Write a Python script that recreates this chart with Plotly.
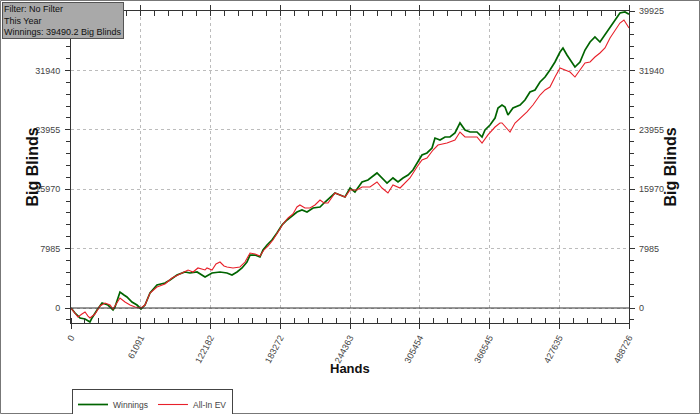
import plotly.graph_objects as go

# ---- data ----
win_hands = [0, 3500, 7900, 12300, 16600, 18400, 22800, 27200, 32400, 36800, 38500, 41200, 42900,
             46400, 49000, 53400, 57800, 61300, 64800, 69200, 75300, 82300, 86700, 92800, 99800,
             104200, 110400, 117400, 123500, 130500, 136600, 141000, 145400, 149800, 154100, 156800,
             161200, 165500, 168200, 171700, 176000, 180400, 184800, 189200, 193600, 197900, 202300,
             206700, 212000, 218100, 222500, 226800, 231200, 235600, 240000, 244400, 248700, 254900,
             260100, 268000, 272400, 276800, 282000, 286400, 290800, 295200, 299500, 303900, 307400,
             311800, 316200, 318800, 323200, 327600, 331900, 336300, 340700, 345100, 349500, 355600,
             360000, 362600, 367000, 371400, 374000, 377500, 380100, 382700, 387100, 393300, 397600,
             402000, 406400, 410800, 415200, 419500, 423900, 428300, 430900, 434400, 438800, 441400,
             445800, 450200, 454600, 458900, 463300, 467700, 472100, 476500, 480800, 485200, 488726]
win_bb = [0, -670, -1340, -1480, -1880, -1340, -270, 670, 400, -270, 130, 1340, 2150,
          1750, 1480, 810, 400, -130, 400, 2020, 3090, 3360, 3760, 4440, 4840,
          4710, 4840, 4170, 4710, 4840, 4710, 4440, 4840, 5380, 6180, 7120,
          7120, 6860, 7800, 8470, 9140, 10080, 11160, 11830, 12370, 12910, 13170,
          12910, 13440, 13580, 14250, 14790, 15460, 15190, 14920, 16130, 15590, 16940,
          17210, 18150, 17480, 16800, 17480, 16940, 17480, 17880, 18550, 19630, 20570,
          20840, 21510, 22850, 22580, 22990, 22990, 23530, 24870, 23930, 23660, 23660,
          22990, 23930, 24600, 25540, 26890, 27290, 27020, 25940, 26890, 27290, 27960,
          29040, 29310, 30380, 31050, 31990, 33070, 34410, 34950, 34010, 33070, 32400,
          33070, 34680, 35760, 36430, 35760, 36700, 37770, 38720, 39660, 39790, 39490]

ev_hands = [0, 4400, 6100, 9600, 12300, 14900, 16600, 21000, 25400, 29800, 34200, 36800, 39400,
            42900, 47300, 51700, 56100, 61300, 64800, 69200, 75300, 82300, 88500, 95500, 102500,
            106900, 111200, 117400, 119100, 123500, 127000, 130500, 134000, 136600, 141900, 148000,
            152400, 156800, 161200, 165500, 169000, 172500, 176900, 181300, 185700, 190100, 194400,
            197900, 200500, 204900, 209300, 213700, 218100, 221600, 225100, 231200, 235600, 240000,
            244400, 250500, 254900, 261900, 268000, 272400, 277600, 282000, 288200, 292500, 296900,
            303000, 307400, 311800, 317100, 321400, 329300, 336300, 340700, 345100, 355600, 360000,
            365200, 371400, 375700, 377500, 381000, 384500, 388900, 393300, 399400, 404600, 410800,
            415200, 419500, 423900, 428300, 432700, 437100, 441400, 445800, 450200, 454600, 458900,
            463300, 467700, 472100, 476500, 480800, 484300, 487000, 488726]
ev_bb = [0, -940, -1210, -810, -540, -1080, -1340, -810, 270, 670, 400, -130, 540,
         1340, 810, 400, 130, 0, 400, 2020, 2820, 3230, 4030, 4570, 5110,
         4840, 5380, 5110, 5380, 5110, 5910, 6180, 5650, 5510, 5380, 5510,
         6180, 7390, 7260, 6990, 7800, 8330, 9140, 10220, 11290, 12100, 12640,
         13580, 13850, 13440, 13440, 13850, 14520, 14120, 14120, 15460, 15190, 14920,
         15860, 15860, 16270, 16270, 16940, 16130, 15460, 16530, 16130, 16800, 17480,
         18950, 19900, 20160, 21240, 21910, 22180, 22580, 23660, 22990, 22990, 22180,
         23260, 24330, 24870, 24870, 24200, 23660, 24870, 25540, 26350, 27290, 28630,
         29310, 29710, 31050, 32260, 31990, 31720, 31050, 31990, 32940, 33070, 33740,
         34280, 34950, 36300, 37370, 38310, 38720, 38040, 37640]

x_ticks = [0, 61091, 122182, 183272, 244363, 305454, 366545, 427635, 488726]
y_ticks = [0, 7985, 15970, 23955, 31940, 39925]
y_range = [-2016, 39925]
info_lines = ["Filter: No Filter", "This Year", "Winnings: 39490.2 Big Blinds"]

# plot-area geometry in pixels (used only for paper-coordinate placement of texts)
L, R, T, B, W, H = 71, 629, 11, 323, 700, 414
pw, ph = R - L, B - T


def px(xp):
    return (xp - L) / pw


def py(yp):
    return (B - yp) / ph


fig = go.Figure()
fig.add_trace(go.Scatter(x=win_hands, y=win_bb, mode="lines", name="Winnings",
                         line=dict(color="#006400", width=1.7)))
fig.add_trace(go.Scatter(x=ev_hands, y=ev_bb, mode="lines", name="All-In EV",
                         line=dict(color="#e8202a", width=1.1)))
# same data referenced on the right-hand axis so its labels are drawn (invisible)
fig.add_trace(go.Scatter(x=win_hands, y=win_bb, mode="lines", yaxis="y2", showlegend=False,
                         hoverinfo="skip", line=dict(width=0), opacity=0))

tick_font = dict(family="Liberation Sans, Arial", size=9, color="#444444")
axis_common = dict(showline=True, linecolor="#333333", linewidth=1, ticks="outside",
                   ticklen=5, tickcolor="#333333", showgrid=True, gridcolor="#bcbcbc",
                   griddash="dot", gridwidth=1, zeroline=False, tickfont=tick_font,
                   automargin=False)
title_font = dict(family="Liberation Sans, Arial", size=16, color="#111111")

# left labels: the top one is hidden behind the info box in the reference
left_labels = [str(v) for v in y_ticks[:-1]] + [""]

fig.update_layout(
    width=W, height=H,
    margin=dict(l=L, r=W - R, t=T, b=H - B, autoexpand=False),
    paper_bgcolor="white", plot_bgcolor="white",
    showlegend=True,
    legend=dict(orientation="h", x=px(72), y=py(389), xanchor="left", yanchor="top",
                bordercolor="#444444", borderwidth=1, bgcolor="white",
                font=dict(family="Liberation Sans, Arial", size=8.5, color="#444444"),
                itemwidth=30, tracegroupgap=0),
    xaxis=dict(range=[0, 488726], tickvals=x_ticks, ticktext=[str(v) for v in x_ticks],
               tickangle=-62, mirror="allticks",
               minor=dict(dtick=61090.75 / 5, tick0=0, ticks="inside", ticklen=4,
                          tickcolor="#333333", showgrid=False),
               **axis_common),
    yaxis=dict(range=y_range, tickvals=y_ticks, ticktext=left_labels,
               mirror="allticks",
               minor=dict(dtick=1597, tick0=0, ticks="outside", ticklen=4,
                          tickcolor="#333333", showgrid=False),
               ticklabelstandoff=3,
               **axis_common),
    yaxis2=dict(range=y_range, tickvals=y_ticks, ticktext=[str(v) for v in y_ticks],
                overlaying="y", side="right", showgrid=False, showline=False,
                ticks="", zeroline=False, tickfont=tick_font, ticklabelstandoff=9,
                automargin=False),
)

# zero line
fig.add_hline(y=0, line=dict(color="#333333", width=1))

# axis titles
fig.add_annotation(text="<b>Big Blinds</b>", xref="paper", yref="paper", x=px(21), y=py(167),
                   textangle=-90, showarrow=False, font=title_font)
fig.add_annotation(text="<b>Big Blinds</b>", xref="paper", yref="paper", x=px(680), y=py(167),
                   textangle=-90, showarrow=False, font=title_font)
fig.add_annotation(text="<b>Hands</b>", xref="paper", yref="paper", x=px(350), y=py(378),
                   showarrow=False, font=dict(family="Liberation Sans, Arial", size=13,
                                              color="#111111"))

# info box
fig.add_annotation(text="<br>".join(info_lines), xref="paper", yref="paper",
                   x=px(2), y=py(1.5), xanchor="left", yanchor="top", align="left",
                   showarrow=False, bgcolor="#a9a9a9", bordercolor="#555555", borderwidth=1,
                   borderpad=1,
                   font=dict(family="Liberation Sans, Arial", size=9, color="#111111"))

# outer frame
fig.add_shape(type="rect", xref="paper", yref="paper",
              x0=px(0.5), x1=px(699.5), y0=py(413.5), y1=py(0.5),
              line=dict(color="#777777", width=1), fillcolor="rgba(0,0,0,0)", layer="below")

fig.write_html("out.html", config={"displayModeBar": False},
               post_script="document.body.style.margin='0px';")
